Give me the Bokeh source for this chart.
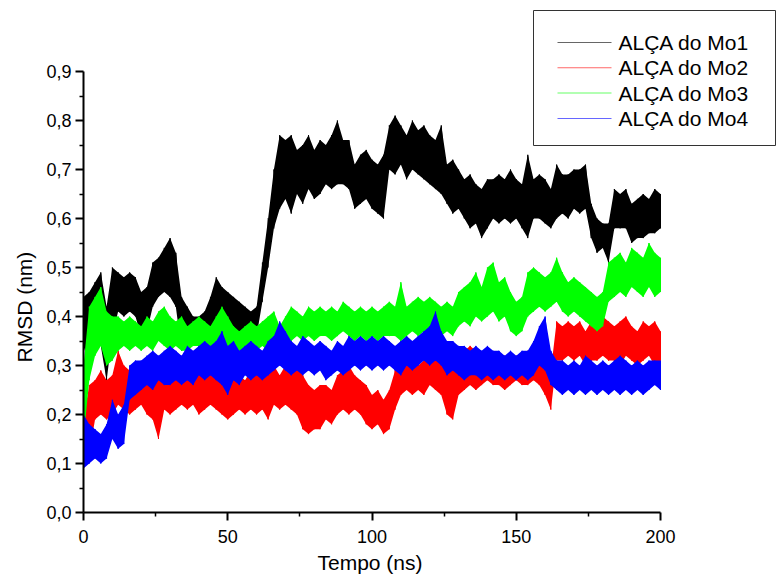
import numpy as np
from bokeh.plotting import figure
from bokeh.models import FixedTicker, BoxAnnotation, Label, Title
from bokeh.embed import file_html
from bokeh.resources import INLINE

# ---- data (lower / upper envelope of each noisy trace) ----
time_ns = list(range(0, 201, 2))

mo1_lo = [0.34, 0.30, 0.36, 0.34, 0.27, 0.36, 0.41, 0.40, 0.41, 0.40,
          0.36, 0.37, 0.42, 0.44, 0.45, 0.44, 0.42, 0.33, 0.34, 0.34,
          0.34, 0.35, 0.36, 0.38, 0.38, 0.37, 0.36, 0.37, 0.36, 0.34,
          0.36, 0.43, 0.50, 0.58, 0.62, 0.64, 0.61, 0.65, 0.63, 0.66,
          0.64, 0.65, 0.67, 0.66, 0.67, 0.67, 0.66, 0.62, 0.63, 0.64,
          0.62, 0.61, 0.60, 0.70, 0.69, 0.71, 0.68, 0.70, 0.69, 0.68,
          0.67, 0.66, 0.65, 0.63, 0.61, 0.62, 0.60, 0.58, 0.59, 0.56,
          0.58, 0.60, 0.59, 0.60, 0.59, 0.60, 0.58, 0.56, 0.60, 0.60,
          0.59, 0.58, 0.60, 0.61, 0.60, 0.62, 0.61, 0.62, 0.56, 0.53,
          0.54, 0.51, 0.58, 0.58, 0.58, 0.55, 0.56, 0.56, 0.57, 0.57,
          0.58]
mo1_hi = [0.44, 0.45, 0.47, 0.49, 0.42, 0.50, 0.49, 0.48, 0.49, 0.48,
          0.45, 0.46, 0.51, 0.52, 0.54, 0.56, 0.53, 0.44, 0.42, 0.40,
          0.40, 0.41, 0.44, 0.48, 0.46, 0.45, 0.44, 0.43, 0.42, 0.41,
          0.42, 0.51, 0.60, 0.70, 0.77, 0.76, 0.77, 0.74, 0.75, 0.77,
          0.74, 0.76, 0.75, 0.77, 0.80, 0.76, 0.76, 0.71, 0.73, 0.74,
          0.72, 0.71, 0.73, 0.79, 0.81, 0.79, 0.77, 0.80, 0.78, 0.79,
          0.77, 0.76, 0.79, 0.71, 0.72, 0.70, 0.68, 0.69, 0.67, 0.66,
          0.68, 0.68, 0.69, 0.68, 0.70, 0.68, 0.67, 0.73, 0.68, 0.69,
          0.68, 0.66, 0.71, 0.69, 0.69, 0.70, 0.70, 0.71, 0.63, 0.60,
          0.59, 0.59, 0.66, 0.65, 0.66, 0.63, 0.64, 0.65, 0.64, 0.66,
          0.65]

mo2_lo = [0.09, 0.12, 0.19, 0.20, 0.19, 0.20, 0.22, 0.21, 0.20, 0.21,
          0.22, 0.20, 0.19, 0.15, 0.21, 0.20, 0.21, 0.22, 0.21, 0.22,
          0.20, 0.21, 0.22, 0.21, 0.20, 0.19, 0.20, 0.21, 0.20, 0.21,
          0.20, 0.21, 0.19, 0.22, 0.21, 0.22, 0.21, 0.20, 0.17, 0.16,
          0.17, 0.17, 0.19, 0.18, 0.20, 0.21, 0.20, 0.21, 0.20, 0.18,
          0.17, 0.18, 0.16, 0.17, 0.21, 0.24, 0.25, 0.24, 0.25, 0.24,
          0.26, 0.25, 0.24, 0.20, 0.19, 0.24, 0.25, 0.26, 0.25, 0.26,
          0.27, 0.26, 0.26, 0.25, 0.26, 0.27, 0.26, 0.26, 0.27, 0.26,
          0.24, 0.21, 0.31, 0.31, 0.32, 0.31, 0.32, 0.30, 0.31, 0.31,
          0.32, 0.31, 0.31, 0.30, 0.32, 0.31, 0.30, 0.31, 0.32, 0.30,
          0.31]
mo2_hi = [0.19, 0.26, 0.27, 0.29, 0.27, 0.28, 0.33, 0.30, 0.29, 0.29,
          0.30, 0.28, 0.29, 0.28, 0.29, 0.30, 0.28, 0.29, 0.30, 0.29,
          0.29, 0.28, 0.29, 0.28, 0.27, 0.28, 0.27, 0.28, 0.27, 0.29,
          0.28, 0.30, 0.29, 0.30, 0.28, 0.30, 0.29, 0.30, 0.28, 0.26,
          0.25, 0.26, 0.26, 0.25, 0.28, 0.29, 0.30, 0.28, 0.27, 0.26,
          0.24, 0.25, 0.23, 0.25, 0.29, 0.31, 0.32, 0.31, 0.30, 0.31,
          0.33, 0.34, 0.33, 0.30, 0.29, 0.32, 0.33, 0.34, 0.33, 0.32,
          0.33, 0.32, 0.31, 0.32, 0.31, 0.32, 0.31, 0.33, 0.32, 0.31,
          0.30, 0.29, 0.39, 0.38, 0.39, 0.38, 0.39, 0.37, 0.39, 0.38,
          0.40, 0.39, 0.38, 0.39, 0.40, 0.38, 0.37, 0.39, 0.38, 0.39,
          0.37]

mo3_lo = [0.15, 0.27, 0.32, 0.34, 0.30, 0.31, 0.33, 0.34, 0.33, 0.34,
          0.33, 0.34, 0.33, 0.35, 0.34, 0.33, 0.34, 0.33, 0.33, 0.34,
          0.34, 0.33, 0.33, 0.32, 0.35, 0.33, 0.32, 0.33, 0.32, 0.33,
          0.33, 0.34, 0.33, 0.34, 0.32, 0.34, 0.35, 0.36, 0.35, 0.36,
          0.35, 0.36, 0.36, 0.35, 0.36, 0.37, 0.36, 0.35, 0.36, 0.35,
          0.36, 0.35, 0.36, 0.36, 0.36, 0.35, 0.36, 0.37, 0.36, 0.37,
          0.37, 0.38, 0.36, 0.37, 0.36, 0.38, 0.39, 0.38, 0.40, 0.39,
          0.40, 0.41, 0.39, 0.40, 0.37, 0.36, 0.37, 0.40, 0.41, 0.42,
          0.41, 0.42, 0.43, 0.41, 0.40, 0.41, 0.40, 0.39, 0.38, 0.37,
          0.38, 0.43, 0.44, 0.45, 0.44, 0.46, 0.45, 0.44, 0.46, 0.44,
          0.45]
mo3_hi = [0.30, 0.42, 0.44, 0.46, 0.41, 0.40, 0.40, 0.39, 0.40, 0.39,
          0.38, 0.40, 0.39, 0.41, 0.42, 0.40, 0.39, 0.40, 0.38, 0.39,
          0.40, 0.39, 0.38, 0.40, 0.42, 0.40, 0.38, 0.37, 0.38, 0.39,
          0.38, 0.39, 0.40, 0.41, 0.38, 0.40, 0.42, 0.41, 0.40, 0.42,
          0.41, 0.42, 0.41, 0.42, 0.41, 0.43, 0.42, 0.41, 0.42, 0.41,
          0.42, 0.41, 0.42, 0.43, 0.42, 0.47, 0.42, 0.43, 0.44, 0.43,
          0.44, 0.43, 0.42, 0.43, 0.42, 0.45, 0.46, 0.47, 0.49, 0.46,
          0.50, 0.51, 0.47, 0.48, 0.45, 0.43, 0.44, 0.49, 0.50, 0.49,
          0.48, 0.49, 0.52, 0.49, 0.47, 0.48, 0.47, 0.46, 0.45, 0.44,
          0.45, 0.51, 0.52, 0.53, 0.51, 0.54, 0.53, 0.52, 0.55, 0.53,
          0.52]

mo4_lo = [0.09, 0.10, 0.11, 0.10, 0.11, 0.15, 0.13, 0.14, 0.23, 0.24,
          0.25, 0.26, 0.25, 0.27, 0.26, 0.26, 0.27, 0.26, 0.27, 0.26,
          0.28, 0.27, 0.28, 0.27, 0.26, 0.24, 0.27, 0.26, 0.28, 0.27,
          0.28, 0.27, 0.28, 0.29, 0.30, 0.29, 0.28, 0.29, 0.28, 0.29,
          0.28, 0.29, 0.27, 0.28, 0.29, 0.28, 0.29, 0.30, 0.29, 0.30,
          0.29, 0.30, 0.29, 0.30, 0.29, 0.28, 0.30, 0.29, 0.30, 0.31,
          0.30, 0.31, 0.30, 0.28, 0.29, 0.28, 0.27, 0.28, 0.28, 0.27,
          0.28, 0.27, 0.28, 0.27, 0.28, 0.27, 0.28, 0.27, 0.28, 0.30,
          0.29, 0.26, 0.25, 0.24, 0.25, 0.24, 0.25, 0.24, 0.25, 0.24,
          0.25, 0.24, 0.25, 0.24, 0.25, 0.24, 0.25, 0.24, 0.25, 0.26,
          0.25]
mo4_hi = [0.20, 0.18, 0.17, 0.16, 0.18, 0.23, 0.20, 0.22, 0.30, 0.31,
          0.31, 0.32, 0.33, 0.32, 0.33, 0.34, 0.33, 0.32, 0.34, 0.33,
          0.34, 0.35, 0.34, 0.35, 0.37, 0.34, 0.35, 0.33, 0.34, 0.35,
          0.34, 0.33, 0.35, 0.36, 0.39, 0.37, 0.35, 0.34, 0.36, 0.35,
          0.34, 0.35, 0.34, 0.33, 0.35, 0.34, 0.36, 0.35, 0.36, 0.35,
          0.36, 0.35, 0.36, 0.35, 0.34, 0.35, 0.36, 0.35, 0.36, 0.37,
          0.38, 0.41, 0.37, 0.35, 0.35, 0.34, 0.34, 0.33, 0.34, 0.33,
          0.34, 0.33, 0.33, 0.32, 0.33, 0.32, 0.33, 0.33, 0.35, 0.38,
          0.40, 0.33, 0.31, 0.31, 0.30, 0.31, 0.30, 0.32, 0.31, 0.30,
          0.31, 0.30, 0.31, 0.32, 0.31, 0.30, 0.31, 0.30, 0.31, 0.31,
          0.31]

series_names = ["ALÇA do Mo1", "ALÇA do Mo2", "ALÇA do Mo3", "ALÇA do Mo4"]
series_colors = ["#000000", "#FF0000", "#00FF00", "#0000FF"]

x_ticks = [0, 50, 100, 150, 200]
x_minor = [25, 75, 125, 175]
x_tick_labels = ["0", "50", "100", "150", "200"]
y_ticks = [0.0, 0.1, 0.2, 0.3, 0.4, 0.5, 0.6, 0.7, 0.8, 0.9]
y_minor = [0.05, 0.15, 0.25, 0.35, 0.45, 0.55, 0.65, 0.75, 0.85]
y_tick_labels = ["0,0", "0,1", "0,2", "0,3", "0,4", "0,5", "0,6", "0,7", "0,8", "0,9"]
x_axis_span = (0, 200)
y_axis_span = (0.0, 0.9)
x_title = "Tempo (ns)"
y_title = "RMSD (nm)"

# ---- layout (pixels) ----
W, H = 776, 581
LEFT, BOTTOM = 83, 69            # frame left border / bottom border
AXIS_X_PX = 577                   # pixels covered by 0..200 ns
AXIS_Y_PX = 441                   # pixels covered by 0..0.9 nm
frame_w = W - LEFT
frame_h = H - BOTTOM
x_end = x_axis_span[1] * frame_w / AXIS_X_PX
y_end = y_axis_span[1] * frame_h / AXIS_Y_PX

p = figure(width=W, height=H, output_backend="svg", toolbar_location=None,
           x_range=(0, x_end), y_range=(0, y_end),
           min_border_left=LEFT, min_border_right=0, min_border_top=0,
           min_border_bottom=BOTTOM)
p.outline_line_color = None
p.grid.visible = False
p.background_fill_color = "white"
p.border_fill_color = "white"

FONT = "Liberation Sans"

lows = [mo1_lo, mo2_lo, mo3_lo, mo4_lo]
highs = [mo1_hi, mo2_hi, mo3_hi, mo4_hi]
t = np.array(time_ns, dtype=float)
for name, color, lo, hi in zip(series_names, series_colors, lows, highs):
    lo = np.array(lo); hi = np.array(hi)
    p.varea(x=t, y1=lo, y2=hi, fill_color=color, fill_alpha=1.0)
    zx = np.repeat(t, 2)
    zy = np.empty(2 * len(t))
    zy[0::2] = lo
    zy[1::2] = hi
    p.line(zx, zy, line_color=color, line_width=1, line_alpha=1.0)

# axes
p.xaxis.ticker = FixedTicker(ticks=x_ticks, minor_ticks=x_minor)
p.yaxis.ticker = FixedTicker(ticks=y_ticks, minor_ticks=y_minor)
p.xaxis.bounds = x_axis_span
p.yaxis.bounds = y_axis_span
p.xaxis.major_label_overrides = dict(zip(x_ticks, x_tick_labels))
p.yaxis.major_label_overrides = dict(zip(y_ticks, y_tick_labels))
for ax in (p.xaxis, p.yaxis):
    ax.axis_line_width = 2
    ax.axis_line_color = "black"
    ax.major_tick_line_width = 2
    ax.minor_tick_line_width = 1.5
    ax.major_tick_line_color = "black"
    ax.minor_tick_line_color = "black"
    ax.major_tick_in = 0
    ax.major_tick_out = 8
    ax.minor_tick_in = 0
    ax.minor_tick_out = 4
    ax.major_label_text_font = FONT
    ax.major_label_text_font_size = "18px"
    ax.major_label_text_color = "black"
p.xaxis.major_label_standoff = 9
p.yaxis.major_label_standoff = 4

# axis titles, placed along the 0..200 / 0..0.9 spans (offset from the frame edge)
p.add_layout(Title(text=y_title, align="left", offset=150, standoff=15,
                   text_font=FONT, text_font_size="21px", text_font_style="normal",
                   text_color="black"), "left")
p.add_layout(Title(text=x_title, align="left", offset=234, standoff=7,
                   text_font=FONT, text_font_size="21px", text_font_style="normal",
                   text_color="black"), "below")

# ---- legend box (screen units, measured from the frame's bottom-left corner) ----
LEG_L, LEG_R, LEG_B, LEG_T = 450, 692, 367, 502
ROW_Y0, ROW_STEP = 470, 25.3
LINE_X0, LINE_X1, TEXT_X = 474, 528, 535
p.add_layout(BoxAnnotation(left=LEG_L, right=LEG_R, bottom=LEG_B, top=LEG_T,
                           left_units="screen", right_units="screen",
                           bottom_units="screen", top_units="screen",
                           fill_color="white", fill_alpha=1.0,
                           line_color="#333333", line_width=1, line_alpha=1.0))
for i, (name, color) in enumerate(zip(series_names, series_colors)):
    yy = ROW_Y0 - i * ROW_STEP
    p.add_layout(BoxAnnotation(left=LINE_X0, right=LINE_X1, bottom=yy - 0.5, top=yy + 0.5,
                               left_units="screen", right_units="screen",
                               bottom_units="screen", top_units="screen",
                               fill_color=color, fill_alpha=0.6, line_color=None))
    p.add_layout(Label(x=TEXT_X, y=yy, x_units="screen", y_units="screen", text=name,
                       text_baseline="middle", text_align="left",
                       text_font=FONT, text_font_size="21px", text_color="black"))

open("out.html", "w").write(file_html(p, INLINE))
